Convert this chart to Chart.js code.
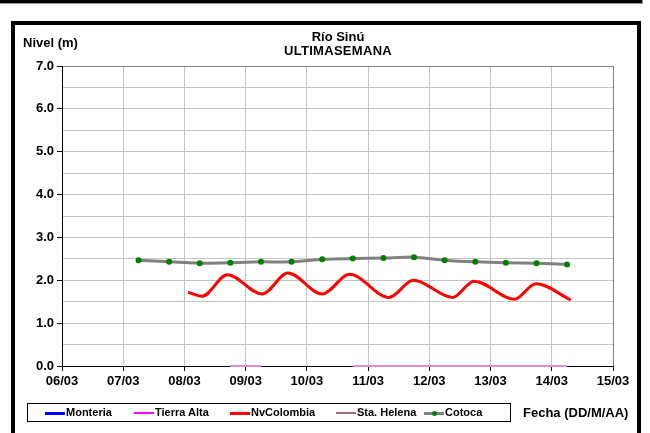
<!DOCTYPE html>
<html>
<head>
<meta charset="utf-8">
<script src="https://cdn.jsdelivr.net/npm/chart.js@4.4.1/dist/chart.umd.min.js"></script>
<style>
  body { margin: 0; width: 650px; height: 433px; position: relative; overflow: hidden; background: #fff;
         font-family: "Liberation Sans", Arial, sans-serif; font-weight: bold; color: #000; }
  #band { position: absolute; left: 0; top: 0; width: 642px; height: 3px; background: #000;
          border-bottom: 1px solid #999; border-right: 1px solid #999; }
  #frame { position: absolute; left: 11px; top: 21px; width: 630px; height: 440px; box-sizing: border-box;
           border: 4px solid #000; }
  #c { position: absolute; left: 0; top: 0; }
  .txt { position: absolute; white-space: nowrap; }
  #ylab { left: 23px; top: 35px; font-size: 13px; }
  #title { left: 238px; top: 30px; width: 200px; text-align: center; font-size: 13px; line-height: 14px; }
  #title .sub { letter-spacing: 0.3px; }
  #legend { position: absolute; left: 27px; top: 403px; width: 484px; height: 19px; box-sizing: border-box;
            border: 1px solid #000; }
  .item { position: absolute; top: 2px; font-size: 11px; line-height: 13px; white-space: nowrap; }
  .item i { position: absolute; top: 6px; height: 3px; width: 20px; }
  .item b { position: absolute; top: 5px; left: 8px; width: 5px; height: 5px; border-radius: 3px; background: #008000; }
  .item span { position: absolute; left: 21px; top: 0; white-space: nowrap; }
  #xlab { left: 523px; top: 405px; font-size: 13px; }
</style>
</head>
<body>
<div id="band"></div>
<div id="frame"></div>
<canvas id="c" width="650" height="433"></canvas>
<div class="txt" id="ylab">Nivel (m)</div>
<div class="txt" id="title">Río Sinú<br><span class="sub">ULTIMASEMANA</span></div>
<div id="legend"></div>
<div class="txt" id="xlab">Fecha (DD/M/AA)</div>
<script>
// eje X: días desde 06/03 00:00
const diasEtiquetas = ['06/03', '07/03', '08/03', '09/03', '10/03', '11/03', '12/03', '13/03', '14/03', '15/03'];
const nivelEtiquetas = ['0.0', '1.0', '2.0', '3.0', '4.0', '5.0', '6.0', '7.0'];

// Cotoca: lecturas 06:00 y 18:00
const cotocaTiempos = [1.25, 1.75, 2.25, 2.75, 3.25, 3.75, 4.25, 4.75, 5.25, 5.75, 6.25, 6.75, 7.25, 7.75, 8.25];
const cotocaNivel = [2.47, 2.43, 2.40, 2.41, 2.43, 2.43, 2.49, 2.51, 2.52, 2.54, 2.47, 2.43, 2.41, 2.40, 2.37];

// Tierra Alta (en cero, con un hueco)
const tierraTiempos = [2.75, 3.25, 3.75, 4.25, 4.75, 5.25, 5.75, 6.25, 6.75, 7.25, 7.75, 8.25];
const tierraNivel = [0, 0, null, null, 0, 0, 0, 0, 0, 0, 0, 0];

// NvColombia: máximos y mínimos diarios
const nvTiempos = [2.06, 2.29, 2.70, 3.27, 3.69, 4.25, 4.70, 5.34, 5.74, 6.38, 6.73, 7.39, 7.74, 8.31];
const nvNivel = [1.72, 1.63, 2.13, 1.68, 2.17, 1.68, 2.14, 1.60, 2.00, 1.60, 1.98, 1.56, 1.92, 1.54];

const monteriaNivel = [];
const helenaNivel = [];

const puntos = (t, v) => t.map((x, i) => ({ x: x, y: v[i] }));

// leyenda en HTML
const leyenda = [
    { nombre: 'Monteria', color: '#0000ff', left: 17, alto: 3 },
    { nombre: 'Tierra Alta', color: '#ff00ff', left: 106, alto: 2 },
    { nombre: 'NvColombia', color: '#ff0000', left: 202, alto: 3 },
    { nombre: 'Sta. Helena', color: '#a07070', left: 308, alto: 2 },
    { nombre: 'Cotoca', color: '#808080', left: 396, alto: 3, punto: true }
];
const cajaLeyenda = document.getElementById('legend');
leyenda.forEach(l => {
    const d = document.createElement('div');
    d.className = 'item';
    d.style.left = l.left + 'px';
    d.innerHTML = `<i style="background:${l.color};height:${l.alto}px"></i>` +
        (l.punto ? '<b></b>' : '') + `<span>${l.nombre}</span>`;
    cajaLeyenda.appendChild(d);
});

Chart.defaults.font.family = '"Liberation Sans", Arial, sans-serif';
Chart.defaults.font.size = 13;
Chart.defaults.font.weight = 'bold';
Chart.defaults.color = '#000';

new Chart(document.getElementById('c'), {
    type: 'line',
    data: {
        datasets: [
            { label: 'Monteria', data: monteriaNivel, borderColor: '#0000ff', borderWidth: 3, pointRadius: 0 },
            { label: 'Tierra Alta', data: puntos(tierraTiempos, tierraNivel), borderColor: '#d890d8',
              borderWidth: 2, pointRadius: 0, spanGaps: false, clip: false },
            { label: 'NvColombia', data: puntos(nvTiempos, nvNivel), borderColor: '#ff0000', borderWidth: 3,
              pointRadius: 0, cubicInterpolationMode: 'monotone' },
            { label: 'Sta. Helena', data: helenaNivel, borderColor: '#a07070', borderWidth: 2, pointRadius: 0 },
            { label: 'Cotoca', data: puntos(cotocaTiempos, cotocaNivel), borderColor: '#808080', borderWidth: 3,
              tension: 0.2, pointRadius: 3, pointBackgroundColor: '#008000', pointBorderColor: '#008000',
              pointBorderWidth: 0 }
        ]
    },
    options: {
        responsive: false,
        animation: false,
        devicePixelRatio: 1,
        layout: { padding: { left: 0, top: 66, right: 37, bottom: 37 } },
        plugins: { legend: { display: false }, tooltip: { enabled: false } },
        scales: {
            x: {
                type: 'linear', min: 0, max: 9,
                afterFit: s => { s.height = 30; },
                afterBuildTicks: s => { s.ticks = diasEtiquetas.map((_, i) => ({ value: i })); },
                ticks: { padding: 3, maxRotation: 0, autoSkip: false, callback: v => diasEtiquetas[v] },
                grid: { color: c => c.index === 9 ? '#808080' : '#c4c4c4', tickColor: '#000', tickLength: 5 },
                border: { color: '#000', width: 1 }
            },
            y: {
                min: 0, max: 7,
                afterFit: s => { s.width = 62; },
                afterBuildTicks: s => {
                    const t = [];
                    for (let i = 0; i <= 14; i++) t.push({ value: i / 2 });
                    s.ticks = t;
                },
                ticks: { padding: 3, autoSkip: false,
                         callback: v => Number.isInteger(v) ? nivelEtiquetas[v] : '' },
                grid: {
                    color: c => c.tick && c.tick.value === 7 ? '#808080' : '#c4c4c4',
                    tickColor: c => c.tick && Number.isInteger(c.tick.value) ? '#000' : 'rgba(0,0,0,0)',
                    tickLength: 5
                },
                border: { color: '#000', width: 1 }
            }
        }
    }
});
</script>
</body>
</html>
